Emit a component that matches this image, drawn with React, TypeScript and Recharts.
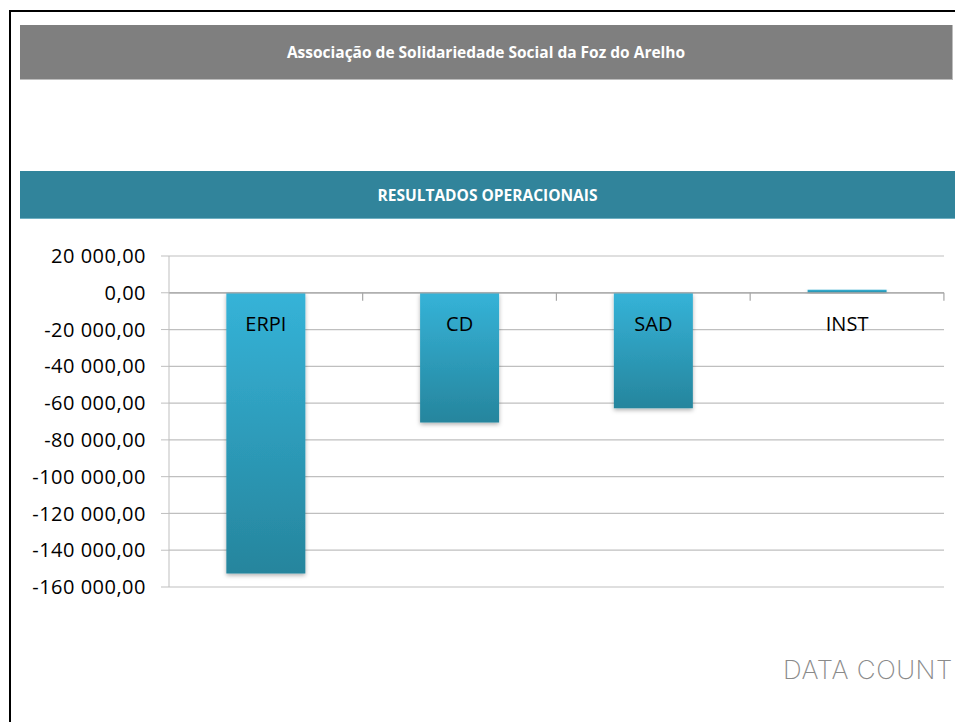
import { BarChart, Bar, XAxis, YAxis, CartesianGrid, ReferenceLine, LabelList } from 'recharts';

const categories = ['ERPI', 'CD', 'SAD', 'INST'];
const resultados = [-152600, -70600, -62800, 1600];
const yTicks = [20000, 0, -20000, -40000, -60000, -80000, -100000, -120000, -140000, -160000];

const data = categories.map((name, i) => ({ name, value: resultados[i] }));

const GAP = 0.296; // barCategoryGap as a fraction of the band

function fmt(v: number) {
  const sign = v < 0 ? '-' : '';
  const [int, dec] = Math.abs(v).toFixed(2).split('.');
  return sign + int.replace(/\B(?=(\d{3})+(?!\d))/g, ' ') + ',' + dec;
}

// category name just under the zero line, plus the boundary tick on the right of each band
function CategoryLabel(props: any) {
  const { x, y, width, height, index } = props;
  const top = Math.min(y, y + height);
  const bottom = Math.max(y, y + height);
  const zero = resultados[index] < 0 ? top : bottom;
  const cx = x + width / 2;
  const band = width / (1 - 2 * GAP);
  return <g>
      <line x1={cx + band / 2} x2={cx + band / 2} y1={zero} y2={zero + 8} stroke="#a6a6a6" strokeWidth={1.2} />
      <text x={cx} y={zero + 38} textAnchor="middle" fill="#000" fontSize={20} fontFamily="'Open Sans', sans-serif">
        {categories[index]}
      </text>
    </g>;
}

export default function App() {
  return <div style={{
    position: 'fixed',
    left: 0,
    top: 0,
    width: 955,
    height: 722,
    overflow: 'hidden',
    background: '#fff',
    fontFamily: "'Open Sans', sans-serif"
  }}>
      <div style={{
      position: 'absolute',
      left: 9,
      top: 10,
      width: 1100,
      height: 900,
      border: '2px solid #000'
    }} />
      <div style={{
      position: 'absolute',
      left: 20,
      top: 25,
      width: 932,
      height: 54,
      background: '#7f7f7f',
      borderRight: '1px solid #bdbdbd',
      borderBottom: '1px solid #bdbdbd',
      color: '#fff',
      fontWeight: 700,
      fontSize: 15.5,
      display: 'flex',
      alignItems: 'center',
      justifyContent: 'center'
    }}>
        Associação de Solidariedade Social da Foz do Arelho
      </div>
      <div style={{
      position: 'absolute',
      left: 20,
      top: 171,
      width: 935,
      height: 47,
      background: '#31849b',
      borderBottom: '1px solid #6fb0c2',
      color: '#fff',
      fontWeight: 700,
      fontSize: 15.5,
      display: 'flex',
      alignItems: 'center',
      justifyContent: 'center'
    }}>
        RESULTADOS OPERACIONAIS
      </div>

      <div style={{
      position: 'absolute',
      left: 0,
      top: 236
    }}>
        <BarChart width={955} height={370} data={data} margin={{
        top: 20,
        right: 11,
        bottom: 19,
        left: 0
      }} barCategoryGap={`${GAP * 100}%`}>
          <defs>
            <linearGradient id="barFill" x1="0" y1="0" x2="0" y2="1">
              <stop offset="0%" stopColor="#35b3d8" />
              <stop offset="100%" stopColor="#26859d" />
            </linearGradient>
            <filter id="barShadow" x="-10%" y="-10%" width="120%" height="130%">
              <feDropShadow dx="0" dy="2" stdDeviation="2" floodColor="#000" floodOpacity="0.3" />
            </filter>
          </defs>
          <CartesianGrid vertical={false} stroke="#bfbfbf" strokeWidth={1.2} />
          <XAxis dataKey="name" hide />
          <YAxis width={169} domain={[-160000, 20000]} ticks={yTicks} interval={0} tickFormatter={fmt} axisLine={{
          stroke: '#bfbfbf'
        }} tickLine={{
          stroke: '#bfbfbf'
        }} tickSize={8} tickMargin={15} tick={{
          fill: '#000',
          fontSize: 20,
          fontFamily: "'Open Sans', sans-serif",
          letterSpacing: '0.5px'
        }} />
          <ReferenceLine y={0} stroke="#a6a6a6" strokeWidth={1.2} />
          <Bar dataKey="value" fill="url(#barFill)" filter="url(#barShadow)" isAnimationActive={false}>
            <LabelList dataKey="value" content={CategoryLabel} />
          </Bar>
        </BarChart>
      </div>

      <div style={{
      position: 'absolute',
      left: 783,
      top: 654,
      fontFamily: 'Inter, sans-serif',
      fontWeight: 200,
      fontSize: 26,
      color: '#8a8a8a',
      letterSpacing: '0.5px',
      whiteSpace: 'nowrap'
    }}>
        DATA COUNT
      </div>
    </div>;
}
